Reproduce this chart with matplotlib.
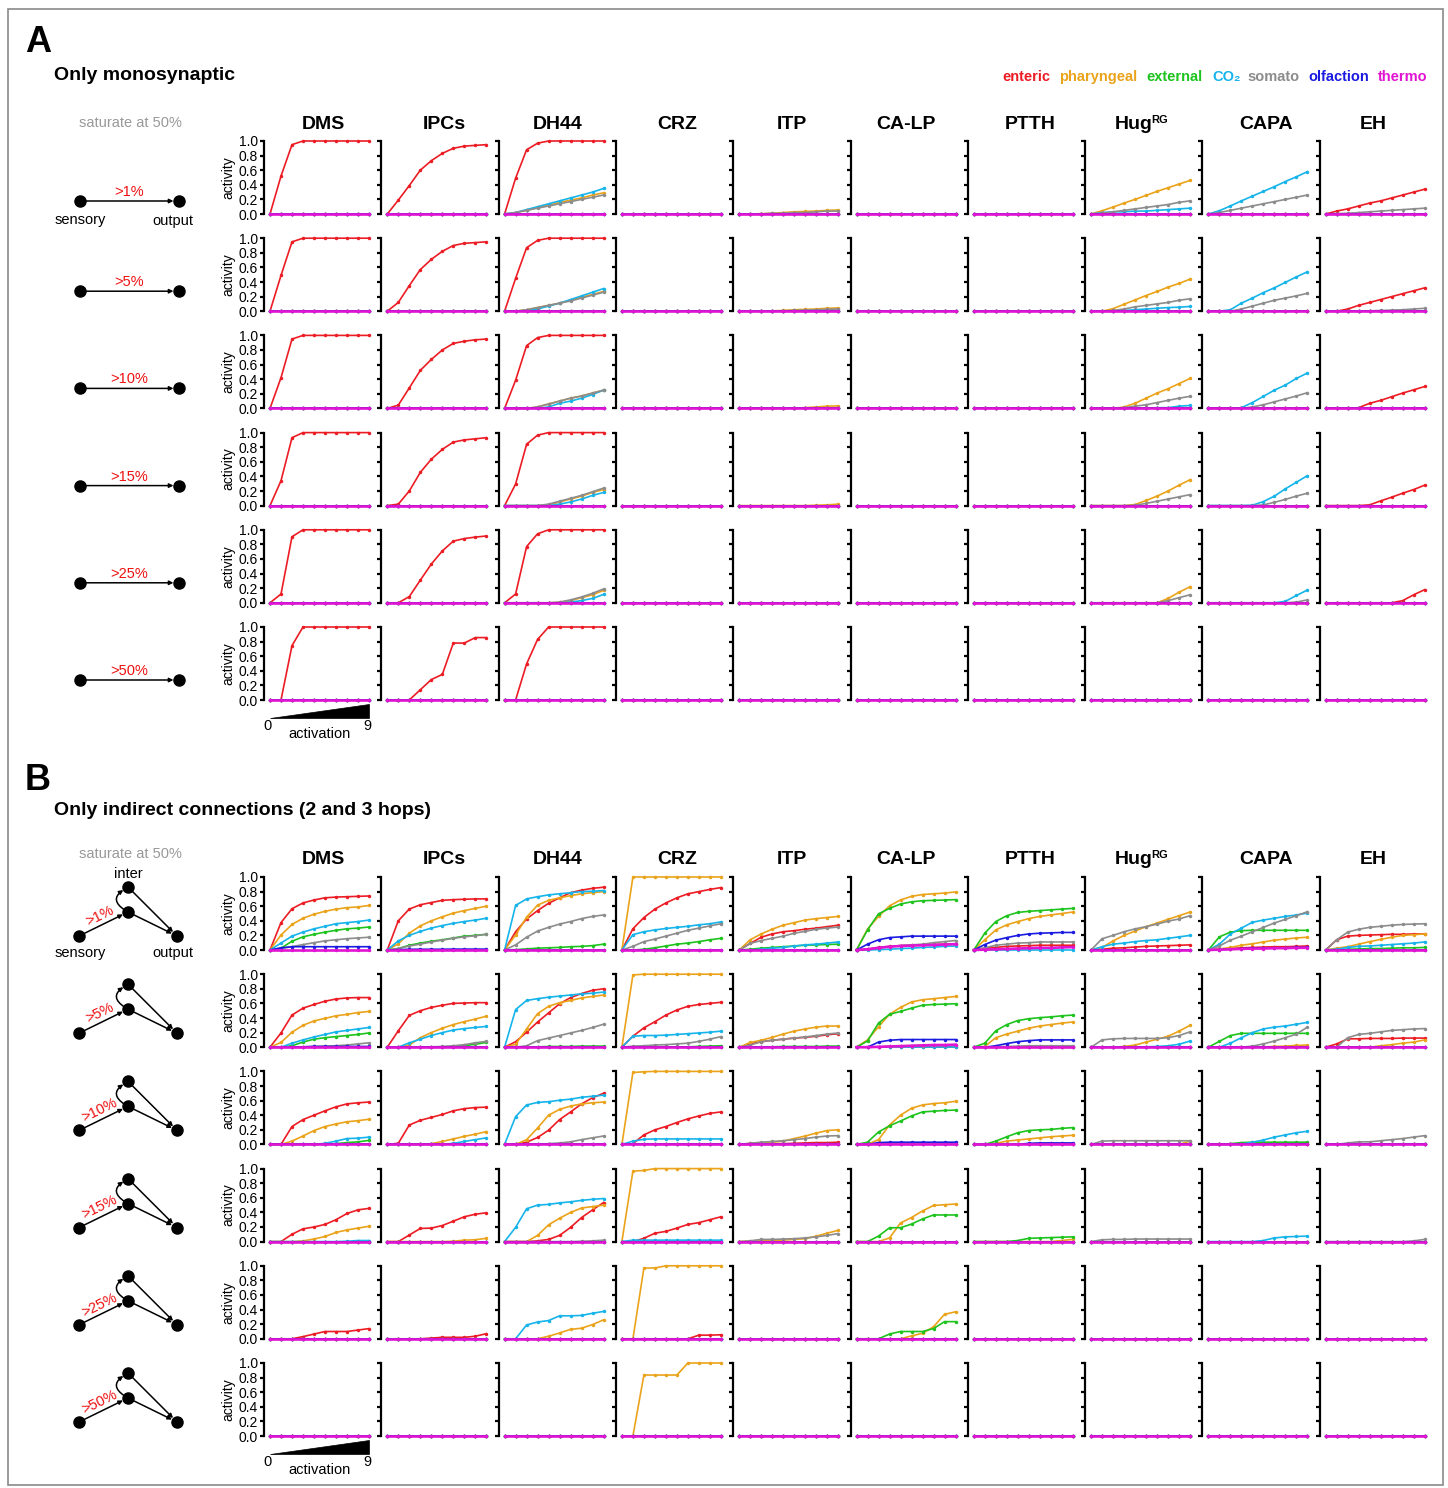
import matplotlib

matplotlib.use("Agg")
import matplotlib.pyplot as plt
from matplotlib.patches import Polygon, Rectangle

plt.rcParams["font.family"] = ["Liberation Sans", "DejaVu Sans"]

# ---------------------------------------------------------------- data
ACTIVATION = list(range(10))
ZERO = [0] * 10
Y_TICKS = [0.0, 0.2, 0.4, 0.6, 0.8, 1.0]

SERIES = ["enteric", "pharyngeal", "external", "CO2", "somato", "olfaction", "thermo"]
LEGEND_LABELS = ["enteric", "pharyngeal", "external", "CO\u2082", "somato", "olfaction", "thermo"]
COLORS = {
    "enteric": "#ec1c24",
    "pharyngeal": "#eaa31a",
    "external": "#1ec31e",
    "CO2": "#16b4ea",
    "somato": "#8c8c8c",
    "olfaction": "#1a1ae0",
    "thermo": "#e014d2",
}
OUTPUTS = ["DMS", "IPCs", "DH44", "CRZ", "ITP", "CA-LP", "PTTH", "Hug", "CAPA", "EH"]
THRESHOLDS = [">1%", ">5%", ">10%", ">15%", ">25%", ">50%"]

# A: only monosynaptic (series not listed stay at zero)
MONO_1 = {
    "DMS": {"enteric": [0, .52, .95, 1, 1, 1, 1, 1, 1, 1]},
    "IPCs": {"enteric": [0, .19, .39, .60, .73, .83, .90, .93, .94, .95]},
    "DH44": {"enteric": [0, .49, .88, .97, 1, 1, 1, 1, 1, 1],
             "pharyngeal": [0, .02, .05, .09, .12, .16, .19, .22, .26, .29],
             "CO2": [0, .02, .06, .10, .14, .18, .22, .26, .30, .35],
             "somato": [0, .02, .05, .08, .11, .14, .17, .20, .23, .26]},
    "ITP": {"pharyngeal": [0, 0, .005, .01, .02, .03, .035, .04, .05, .055],
            "somato": [0, 0, 0, .01, .01, .02, .02, .03, .04, .04]},
    "Hug": {"pharyngeal": [0, .045, .095, .15, .20, .255, .31, .36, .41, .46],
            "CO2": [0, .02, .03, .03, .04, .04, .05, .06, .07, .08],
            "somato": [0, .01, .03, .05, .07, .09, .11, .13, .16, .18]},
    "CAPA": {"CO2": [0, .045, .11, .18, .245, .31, .375, .445, .51, .58],
             "somato": [0, .02, .05, .08, .11, .14, .17, .20, .23, .26]},
    "EH": {"enteric": [0, .04, .07, .11, .15, .18, .22, .26, .30, .34],
           "somato": [0, .005, .01, .02, .03, .04, .05, .06, .07, .08]},
}
MONO_5 = {
    "DMS": {"enteric": [0, .49, .95, 1, 1, 1, 1, 1, 1, 1]},
    "IPCs": {"enteric": [0, .12, .35, .57, .71, .82, .90, .93, .94, .95]},
    "DH44": {"enteric": [0, .45, .87, .97, 1, 1, 1, 1, 1, 1],
             "pharyngeal": [0, 0, .02, .05, .08, .11, .15, .19, .23, .27],
             "CO2": [0, 0, .01, .03, .07, .11, .16, .21, .26, .31],
             "somato": [0, 0, .02, .05, .08, .11, .14, .18, .22, .26]},
    "ITP": {"pharyngeal": [0, 0, 0, .005, .01, .02, .025, .03, .04, .045],
            "somato": [0, 0, 0, 0, .005, .01, .015, .02, .025, .03]},
    "Hug": {"pharyngeal": [0, 0, .035, .095, .155, .215, .27, .33, .38, .44],
            "CO2": [0, 0, 0, .01, .02, .03, .04, .05, .055, .065],
            "somato": [0, 0, .01, .03, .06, .08, .10, .12, .15, .17]},
    "CAPA": {"CO2": [0, 0, .02, .11, .18, .255, .32, .395, .47, .54],
             "somato": [0, 0, 0, .03, .07, .11, .15, .18, .21, .245]},
    "EH": {"enteric": [0, 0, .03, .08, .12, .16, .20, .24, .28, .32],
           "somato": [0, 0, 0, 0, .005, .01, .015, .02, .03, .04]},
}
MONO_10 = {
    "DMS": {"enteric": [0, .42, .95, 1, 1, 1, 1, 1, 1, 1]},
    "IPCs": {"enteric": [0, .045, .28, .52, .67, .80, .89, .92, .94, .95]},
    "DH44": {"enteric": [0, .385, .86, .97, 1, 1, 1, 1, 1, 1],
             "pharyngeal": [0, 0, 0, .02, .06, .10, .14, .17, .21, .25],
             "CO2": [0, 0, 0, 0, .02, .07, .10, .14, .19, .25],
             "somato": [0, 0, 0, .02, .06, .10, .14, .17, .21, .25]},
    "ITP": {"pharyngeal": [0, 0, 0, 0, 0, .005, .01, .02, .03, .035]},
    "Hug": {"pharyngeal": [0, 0, 0, .02, .07, .14, .21, .27, .34, .41],
            "CO2": [0, 0, 0, 0, 0, 0, .01, .01, .03, .04],
            "somato": [0, 0, 0, .01, .03, .05, .08, .11, .14, .165]},
    "CAPA": {"CO2": [0, 0, 0, .01, .08, .165, .25, .32, .41, .485],
             "somato": [0, 0, 0, 0, .02, .05, .09, .13, .17, .215]},
    "EH": {"enteric": [0, 0, 0, .01, .07, .11, .16, .21, .255, .30]},
}
MONO_15 = {
    "DMS": {"enteric": [0, .34, .93, 1, 1, 1, 1, 1, 1, 1]},
    "IPCs": {"enteric": [0, .02, .20, .455, .635, .77, .87, .90, .915, .93]},
    "DH44": {"enteric": [0, .295, .84, .965, 1, 1, 1, 1, 1, 1],
             "pharyngeal": [0, 0, 0, 0, .01, .05, .09, .13, .18, .22],
             "CO2": [0, 0, 0, 0, 0, .02, .05, .09, .14, .18],
             "somato": [0, 0, 0, 0, .02, .06, .10, .14, .19, .24]},
    "ITP": {"pharyngeal": [0, 0, 0, 0, 0, 0, 0, .005, .01, .02]},
    "Hug": {"pharyngeal": [0, 0, 0, 0, .015, .07, .13, .20, .28, .355],
            "somato": [0, 0, 0, 0, .005, .03, .06, .09, .12, .15]},
    "CAPA": {"CO2": [0, 0, 0, 0, .005, .055, .13, .23, .32, .41],
             "somato": [0, 0, 0, 0, 0, .01, .045, .085, .13, .17]},
    "EH": {"enteric": [0, 0, 0, 0, .01, .065, .115, .17, .22, .28]},
}
MONO_25 = {
    "DMS": {"enteric": [0, .12, .905, 1, 1, 1, 1, 1, 1, 1]},
    "IPCs": {"enteric": [0, 0, .085, .31, .53, .71, .845, .88, .90, .915]},
    "DH44": {"enteric": [0, .12, .77, .945, 1, 1, 1, 1, 1, 1],
             "pharyngeal": [0, 0, 0, 0, 0, .005, .03, .07, .11, .17],
             "CO2": [0, 0, 0, 0, 0, 0, .01, .03, .06, .115],
             "somato": [0, 0, 0, 0, 0, .01, .04, .08, .13, .19]},
    "Hug": {"pharyngeal": [0, 0, 0, 0, 0, 0, 0, .06, .145, .22],
            "somato": [0, 0, 0, 0, 0, 0, 0, .03, .07, .11]},
    "CAPA": {"CO2": [0, 0, 0, 0, 0, 0, 0, .02, .10, .175],
             "somato": [0, 0, 0, 0, 0, 0, 0, 0, .01, .04]},
    "EH": {"enteric": [0, 0, 0, 0, 0, 0, 0, .03, .11, .18]},
}
MONO_50 = {
    "DMS": {"enteric": [0, 0, .745, 1, 1, 1, 1, 1, 1, 1]},
    "IPCs": {"enteric": [0, 0, 0, .14, .28, .35, .78, .78, .855, .855]},
    "DH44": {"enteric": [0, 0, .495, .83, 1, 1, 1, 1, 1, 1]},
}

# B: only indirect connections (2 and 3 hops)
INDIRECT_1 = {
    "DMS": {"enteric": [0, .375, .565, .645, .685, .715, .725, .73, .735, .74],
            "pharyngeal": [0, .205, .35, .435, .49, .53, .56, .58, .59, .61],
            "external": [0, .025, .12, .18, .215, .245, .27, .29, .30, .315],
            "CO2": [0, .095, .19, .245, .29, .325, .36, .375, .39, .41],
            "somato": [0, .02, .045, .075, .10, .125, .14, .155, .165, .175],
            "olfaction": [0, .03, .045, .045, .045, .045, .045, .045, .045, .045]},
    "IPCs": {"enteric": [0, .40, .56, .62, .65, .68, .69, .695, .70, .70],
             "pharyngeal": [0, .085, .23, .33, .40, .455, .505, .54, .57, .60],
             "external": [0, .02, .065, .095, .12, .14, .165, .19, .20, .215],
             "CO2": [0, .125, .20, .255, .30, .335, .365, .39, .41, .435],
             "somato": [0, .02, .055, .08, .11, .135, .16, .18, .195, .215],
             "olfaction": [0, .005, .01, .01, .01, .01, .012, .012, .012, .012]},
    "DH44": {"enteric": [0, .25, .425, .54, .64, .715, .785, .82, .845, .86],
             "pharyngeal": [0, .205, .45, .615, .68, .715, .745, .77, .785, .80],
             "external": [0, .005, .015, .025, .03, .035, .045, .05, .06, .08],
             "CO2": [0, .61, .70, .73, .755, .77, .785, .80, .805, .815],
             "somato": [0, .07, .175, .26, .31, .355, .39, .43, .46, .48]},
    "CRZ": {"enteric": [0, .29, .445, .56, .645, .715, .77, .80, .83, .855],
            "pharyngeal": [0, 1, 1, 1, 1, 1, 1, 1, 1, 1],
            "external": [0, 0, .01, .03, .055, .08, .095, .115, .14, .16],
            "CO2": [0, .21, .25, .275, .295, .31, .325, .345, .36, .385],
            "somato": [0, .05, .115, .15, .19, .23, .27, .30, .33, .36]},
    "ITP": {"enteric": [0, .09, .175, .22, .25, .265, .285, .30, .32, .34],
            "pharyngeal": [0, .14, .22, .285, .34, .375, .41, .43, .445, .46],
            "external": [0, .01, .025, .035, .045, .055, .065, .07, .075, .08],
            "CO2": [0, 0, .01, .025, .035, .055, .07, .08, .095, .11],
            "somato": [0, .09, .13, .16, .19, .23, .255, .285, .30, .315]},
    "CA-LP": {"enteric": [0, .01, .035, .05, .06, .065, .07, .075, .08, .08],
              "pharyngeal": [0, .285, .46, .605, .685, .735, .76, .77, .78, .795],
              "external": [0, .275, .495, .57, .63, .66, .675, .68, .685, .69],
              "CO2": [0, 0, .005, .01, .02, .025, .035, .04, .05, .055],
              "somato": [0, .01, .03, .045, .06, .07, .08, .10, .115, .13],
              "olfaction": [0, .08, .14, .17, .18, .19, .19, .19, .19, .19],
              "thermo": [0, .01, .03, .045, .055, .06, .065, .07, .075, .08]},
    "PTTH": {"enteric": [0, .025, .035, .05, .055, .06, .065, .065, .065, .065],
             "pharyngeal": [0, .14, .275, .345, .39, .43, .46, .48, .50, .52],
             "external": [0, .23, .39, .47, .515, .53, .54, .55, .56, .57],
             "somato": [0, .03, .065, .08, .095, .10, .11, .11, .11, .11],
             "olfaction": [0, .075, .135, .17, .20, .22, .23, .235, .24, .24],
             "thermo": [0, .005, .01, .015, .02, .025, .03, .03, .035, .04]},
    "Hug": {"enteric": [0, .01, .025, .03, .04, .05, .055, .06, .065, .07],
            "pharyngeal": [0, .035, .125, .20, .26, .32, .37, .42, .47, .52],
            "CO2": [0, .045, .08, .095, .115, .13, .14, .16, .18, .20],
            "somato": [0, .155, .20, .25, .29, .32, .355, .395, .425, .47]},
    "CAPA": {"enteric": [0, .01, .02, .03, .035, .04, .045, .045, .05, .055],
             "pharyngeal": [0, .015, .035, .065, .085, .11, .135, .15, .165, .175],
             "external": [0, .18, .245, .265, .27, .27, .27, .27, .27, .27],
             "CO2": [0, .08, .22, .30, .38, .41, .435, .46, .48, .505],
             "somato": [0, .055, .135, .19, .25, .31, .37, .42, .47, .525],
             "olfaction": [0, .005, .01, .02, .025, .03, .03, .03, .035, .035],
             "thermo": [0, .005, .01, .015, .02, .02, .025, .025, .03, .03]},
    "EH": {"enteric": [0, .14, .19, .20, .205, .21, .215, .215, .22, .22],
           "pharyngeal": [0, .025, .045, .08, .115, .145, .175, .20, .21, .22],
           "external": [0, .005, .01, .015, .02, .02, .025, .03, .03, .035],
           "CO2": [0, .01, .035, .05, .055, .065, .075, .085, .095, .11],
           "somato": [0, .14, .245, .285, .31, .325, .34, .35, .355, .36]},
}
INDIRECT_5 = {
    "DMS": {"enteric": [0, .195, .44, .535, .585, .63, .66, .675, .68, .68],
            "pharyngeal": [0, .065, .205, .30, .36, .395, .43, .45, .475, .49],
            "external": [0, 0, .02, .07, .11, .13, .145, .16, .175, .195],
            "CO2": [0, 0, .055, .10, .14, .175, .21, .23, .25, .27],
            "somato": [0, 0, 0, .005, .01, .015, .02, .03, .045, .06],
            "olfaction": [0, 0, .005, .005, .01, .01, .01, .01, .01, .01]},
    "IPCs": {"enteric": [0, .225, .435, .50, .545, .575, .60, .605, .61, .61],
             "pharyngeal": [0, 0, .03, .13, .20, .26, .31, .35, .385, .425],
             "external": [0, 0, 0, 0, 0, .005, .01, .02, .04, .065],
             "CO2": [0, 0, .06, .11, .16, .20, .235, .255, .27, .285],
             "somato": [0, 0, 0, 0, .005, .01, .02, .035, .06, .08]},
    "DH44": {"enteric": [0, .075, .205, .345, .47, .595, .68, .735, .78, .80],
             "pharyngeal": [0, .04, .25, .46, .56, .61, .64, .675, .695, .715],
             "external": [0, 0, .005, .005, .01, .01, .01, .015, .015, .015],
             "CO2": [0, .515, .64, .665, .685, .70, .715, .73, .74, .755],
             "somato": [0, 0, .02, .09, .125, .16, .195, .23, .27, .315]},
    "CRZ": {"enteric": [0, .15, .265, .35, .44, .51, .56, .585, .60, .615],
            "pharyngeal": [0, .99, 1, 1, 1, 1, 1, 1, 1, 1],
            "external": [0, 0, 0, 0, 0, 0, .005, .01, .015, .02],
            "CO2": [0, .15, .16, .16, .165, .175, .185, .195, .205, .22],
            "somato": [0, .015, .02, .03, .035, .045, .055, .08, .11, .145]},
    "ITP": {"enteric": [0, .045, .075, .095, .11, .125, .135, .15, .17, .185],
            "pharyngeal": [0, .065, .095, .135, .18, .22, .25, .275, .29, .29],
            "external": [0, 0, .005, .005, .01, .01, .01, .01, .015, .015],
            "somato": [0, .03, .075, .095, .11, .125, .14, .16, .18, .195]},
    "CA-LP": {"pharyngeal": [0, .10, .28, .45, .545, .62, .65, .665, .68, .695],
              "external": [0, .085, .33, .45, .49, .535, .575, .585, .59, .595],
              "somato": [0, 0, .005, .01, .015, .02, .02, .025, .025, .03],
              "olfaction": [0, 0, .07, .095, .105, .105, .105, .105, .105, .105],
              "thermo": [0, 0, .005, .01, .015, .02, .025, .03, .03, .035]},
    "PTTH": {"pharyngeal": [0, .01, .13, .18, .22, .26, .29, .31, .33, .345],
             "external": [0, .055, .225, .31, .365, .39, .405, .415, .43, .44],
             "somato": [0, 0, .005, .01, .015, .02, .02, .02, .02, .02],
             "olfaction": [0, 0, .02, .05, .075, .09, .10, .10, .10, .10]},
    "Hug": {"pharyngeal": [0, 0, 0, .01, .03, .07, .11, .15, .22, .30],
            "CO2": [0, 0, 0, 0, 0, .005, .01, .02, .04, .085],
            "somato": [0, .10, .115, .12, .12, .12, .12, .13, .16, .21]},
    "CAPA": {"pharyngeal": [0, 0, 0, 0, 0, .005, .01, .015, .025, .03],
             "external": [0, .08, .16, .19, .19, .19, .19, .19, .19, .19],
             "CO2": [0, 0, .055, .13, .20, .25, .275, .29, .315, .34],
             "somato": [0, 0, 0, 0, .015, .045, .085, .13, .18, .275]},
    "EH": {"enteric": [0, .045, .115, .115, .12, .12, .12, .125, .125, .125],
           "pharyngeal": [0, 0, 0, 0, 0, .02, .035, .055, .07, .10],
           "somato": [0, 0, .13, .175, .19, .21, .23, .24, .25, .255]},
}
INDIRECT_10 = {
    "DMS": {"enteric": [0, 0, .245, .34, .40, .46, .515, .555, .57, .58],
            "pharyngeal": [0, 0, .045, .115, .19, .245, .28, .31, .325, .345],
            "external": [0, 0, 0, 0, 0, 0, .01, .025, .035, .055],
            "CO2": [0, 0, 0, 0, 0, .015, .045, .08, .085, .10]},
    "IPCs": {"enteric": [0, .015, .265, .33, .37, .41, .46, .49, .505, .51],
             "pharyngeal": [0, 0, 0, 0, .01, .04, .075, .11, .14, .175],
             "CO2": [0, 0, 0, 0, 0, 0, .015, .04, .065, .09]},
    "DH44": {"enteric": [0, 0, .03, .095, .195, .34, .445, .555, .64, .70],
             "pharyngeal": [0, 0, .065, .225, .40, .48, .525, .555, .57, .58],
             "CO2": [0, .38, .54, .575, .585, .605, .62, .645, .66, .675],
             "somato": [0, 0, 0, 0, .01, .02, .035, .065, .09, .115]},
    "CRZ": {"enteric": [0, .01, .13, .20, .245, .30, .35, .39, .425, .445],
            "pharyngeal": [0, .985, .995, 1, 1, 1, 1, 1, 1, 1],
            "CO2": [0, .045, .07, .075, .075, .075, .075, .075, .075, .075]},
    "ITP": {"enteric": [0, 0, .005, .01, .01, .015, .02, .025, .025, .03],
            "pharyngeal": [0, .015, .025, .03, .045, .08, .115, .155, .19, .20],
            "somato": [0, .015, .03, .04, .05, .065, .08, .10, .115, .12]},
    "CA-LP": {"pharyngeal": [0, 0, .065, .265, .40, .495, .54, .56, .57, .59],
              "external": [0, .03, .17, .255, .32, .39, .445, .455, .465, .47],
              "olfaction": [0, 0, .025, .03, .03, .03, .03, .03, .03, .03]},
    "PTTH": {"pharyngeal": [0, 0, .015, .045, .06, .075, .09, .105, .115, .125],
             "external": [0, 0, .045, .105, .16, .19, .20, .205, .22, .23],
             "olfaction": [0, 0, 0, 0, 0, .015, .02, .02, .02, .02]},
    "Hug": {"pharyngeal": [0, 0, 0, 0, 0, 0, 0, 0, 0, .045],
            "somato": [0, .045, .05, .05, .05, .05, .05, .05, .05, .05]},
    "CAPA": {"external": [0, 0, .01, .025, .03, .03, .03, .03, .03, .03],
             "CO2": [0, 0, 0, .005, .03, .06, .10, .13, .16, .18]},
    "EH": {"somato": [0, 0, .02, .035, .035, .05, .065, .08, .10, .12]},
}
INDIRECT_15 = {
    "DMS": {"enteric": [0, 0, .10, .175, .20, .235, .30, .385, .435, .455],
            "pharyngeal": [0, 0, 0, .01, .035, .07, .125, .16, .185, .21],
            "CO2": [0, 0, 0, 0, 0, 0, 0, .005, .015, .015]},
    "IPCs": {"enteric": [0, 0, .09, .18, .185, .22, .28, .34, .375, .395],
             "pharyngeal": [0, 0, 0, 0, 0, 0, .005, .02, .025, .045]},
    "DH44": {"enteric": [0, 0, 0, .01, .03, .085, .195, .33, .435, .535],
             "pharyngeal": [0, 0, 0, .085, .23, .32, .40, .46, .48, .50],
             "CO2": [0, .195, .45, .50, .51, .53, .545, .565, .58, .59],
             "somato": [0, 0, 0, 0, 0, 0, 0, .005, .01, .02]},
    "CRZ": {"enteric": [0, 0, .045, .115, .14, .185, .235, .26, .30, .34],
            "pharyngeal": [0, .965, .975, 1, 1, 1, 1, 1, 1, 1],
            "CO2": [0, .02, .02, .02, .02, .02, .02, .02, .02, .02]},
    "ITP": {"pharyngeal": [0, .01, .015, .015, .02, .03, .04, .075, .115, .155],
            "somato": [0, .01, .03, .03, .035, .04, .05, .065, .085, .11]},
    "CA-LP": {"pharyngeal": [0, 0, 0, .05, .255, .33, .42, .495, .505, .515],
              "external": [0, 0, .075, .19, .19, .24, .31, .365, .365, .365]},
    "PTTH": {"pharyngeal": [0, 0, 0, 0, 0, 0, 0, 0, .015, .03],
             "external": [0, 0, 0, 0, .015, .045, .05, .055, .06, .065]},
    "Hug": {"somato": [0, .025, .03, .03, .035, .035, .035, .035, .035, .035]},
    "CAPA": {"CO2": [0, 0, 0, 0, 0, .015, .05, .065, .07, .075]},
    "EH": {"somato": [0, 0, 0, 0, 0, 0, 0, 0, .01, .03]},
}
INDIRECT_25 = {
    "DMS": {"enteric": [0, 0, 0, .03, .065, .10, .10, .10, .12, .14]},
    "IPCs": {"enteric": [0, 0, 0, 0, .01, .02, .02, .02, .035, .07]},
    "DH44": {"pharyngeal": [0, 0, 0, 0, .035, .08, .13, .145, .195, .26],
             "CO2": [0, 0, .19, .23, .25, .315, .315, .32, .35, .375]},
    "CRZ": {"enteric": [0, 0, 0, 0, 0, 0, 0, .05, .05, .055],
            "pharyngeal": [0, 0, .97, .97, 1, 1, 1, 1, 1, 1]},
    "CA-LP": {"pharyngeal": [0, 0, 0, 0, 0, .04, .075, .165, .335, .37],
              "external": [0, 0, 0, .065, .10, .10, .10, .14, .235, .235]},
}
INDIRECT_50 = {
    "CRZ": {"pharyngeal": [0, 0, .835, .835, .835, .835, 1, 1, 1, 1]},
}

MONO_ROWS = [MONO_1, MONO_5, MONO_10, MONO_15, MONO_25, MONO_50]
INDIRECT_ROWS = [INDIRECT_1, INDIRECT_5, INDIRECT_10, INDIRECT_15, INDIRECT_25, INDIRECT_50]

# ---------------------------------------------------------------- layout (pixels)
W, H = 1448, 1488
COL_X0, COL_STEP = 264, 117.3
AX_W, AX_H = 108, 73
ROW_STEP = 97.2
PANEL_A_TOP = 141
PANEL_B_TOP = 877
TITLE_X = [323, 444, 558, 677, 792, 906, 1030, 1145, 1266, 1373]
RED = "#ee1111"


def style_axes(ax, first):
    ax.set_xlim(-6 / 11, (AX_W - 6) / 11)
    ax.set_ylim(0, 1)
    for side in ("top", "right", "bottom"):
        ax.spines[side].set_visible(False)
    ax.spines["left"].set_linewidth(1.6)
    ax.set_xticks([])
    ax.set_yticks(Y_TICKS)
    ax.tick_params(axis="y", direction="out", length=3, width=1.6, pad=1.5, labelsize=10)
    if first:
        ax.set_yticklabels([f"{t:.1f}" for t in Y_TICKS])
        ax.set_ylabel("activity", fontsize=10, labelpad=2)
    else:
        ax.set_yticklabels([])
    ax.patch.set_alpha(0)


def plot_panel(fig, rows, top0):
    for r, row in enumerate(rows):
        top = top0 + r * ROW_STEP
        for c, name in enumerate(OUTPUTS):
            left = COL_X0 + c * COL_STEP
            ax = fig.add_axes([left / W, 1 - (top + AX_H) / H, AX_W / W, AX_H / H])
            curves = row.get(name, {})
            for s in SERIES:
                thermo = s == "thermo"
                ax.plot(ACTIVATION, curves.get(s, ZERO), color=COLORS[s],
                        lw=1.9 if thermo else 1.2, marker="o", ms=2.5, mew=0,
                        clip_on=False, zorder=3 if thermo else 2)
            style_axes(ax, c == 0)


def column_titles(ov, y):
    for x, name in zip(TITLE_X, OUTPUTS):
        if name == "Hug":
            ov.text(x + 8, y, "Hug", ha="right", va="baseline", fontsize=14, fontweight="bold")
            ov.text(x + 6, y - 6, "RG", ha="left", va="baseline", fontsize=8, fontweight="bold")
        else:
            ov.text(x, y, name, ha="center", va="baseline", fontsize=14, fontweight="bold")


def arrow(ov, start, end, rad=0.0):
    ov.annotate("", xy=end, xytext=start,
                arrowprops=dict(arrowstyle="-|>", color="black", lw=1.1, shrinkA=3, shrinkB=4,
                                mutation_scale=6, connectionstyle=f"arc3,rad={rad}"))


def activation_wedge(ov, y0):
    x0 = COL_X0 + 6
    x9 = COL_X0 + 6 + 9 * 11
    ov.add_patch(Polygon([(x0, y0 + 18), (x9, y0 + 18), (x9, y0 + 4)], closed=True,
                         fc="black", ec="black", lw=0.5))
    ov.text(x0 - 2, y0 + 30, "0", ha="center", va="baseline", fontsize=10.5)
    ov.text(x9 - 2, y0 + 30, "9", ha="center", va="baseline", fontsize=10.5)
    ov.text((x0 + x9) / 2, y0 + 38, "activation", ha="center", va="baseline", fontsize=10.5)


fig = plt.figure(figsize=(W / 100, H / 100), dpi=100)
ov = fig.add_axes([0, 0, 1, 1])
ov.set_xlim(0, W)
ov.set_ylim(H, 0)
ov.axis("off")

ov.add_patch(Rectangle((7.5, 9), 1435, 1476, fill=False, ec="#8a8a8a", lw=1.2))

# ---------------- panel A
ov.text(25, 52, "A", fontsize=26, fontweight="bold", va="baseline")
ov.text(54, 80, "Only monosynaptic", fontsize=14, fontweight="bold", va="baseline")
legend_x = [1002, 1059, 1146, 1212, 1247, 1308, 1378]
for lx, label, s in zip(legend_x, LEGEND_LABELS, SERIES):
    ov.text(lx, 81, label, color=COLORS[s], fontsize=10.5, fontweight="bold", va="baseline")
ov.text(130, 127, "saturate at 50%", color="#999999", fontsize=10.5, ha="center", va="baseline")
column_titles(ov, 129)
plot_panel(fig, MONO_ROWS, PANEL_A_TOP)

for r, label in enumerate(THRESHOLDS):
    y0 = PANEL_A_TOP + r * ROW_STEP + AX_H
    y = y0 - (13 if r == 0 else 20)
    arrow(ov, (80, y), (179, y))
    ov.plot([80, 179], [y, y], "o", color="black", ms=8)
    ov.text(129, y - 5, label, color=RED, fontsize=10.5, ha="center", va="baseline")
    if r == 0:
        ov.text(80, y + 23, "sensory", fontsize=10.5, ha="center", va="baseline")
        ov.text(173, y + 24, "output", fontsize=10.5, ha="center", va="baseline")
activation_wedge(ov, PANEL_A_TOP + 5 * ROW_STEP + AX_H)

# ---------------- panel B
ov.text(25, 790, "B", fontsize=26, fontweight="bold", va="baseline")
ov.text(54, 815, "Only indirect connections (2 and 3 hops)", fontsize=14, fontweight="bold",
        va="baseline")
ov.text(130, 858, "saturate at 50%", color="#999999", fontsize=10.5, ha="center", va="baseline")
column_titles(ov, 864)
plot_panel(fig, INDIRECT_ROWS, PANEL_B_TOP)

for r, label in enumerate(THRESHOLDS):
    y0 = PANEL_B_TOP + r * ROW_STEP + AX_H
    sens, out = (79, y0 - 14), (177, y0 - 14)
    ib, it = (128, y0 - 38), (128, y0 - 63)
    arrow(ov, sens, ib)
    arrow(ov, ib, out)
    arrow(ov, it, out)
    arrow(ov, ib, it, rad=-0.9)
    ov.plot([sens[0], ib[0], it[0], out[0]], [sens[1], ib[1], it[1], out[1]], "o",
            color="black", ms=8)
    ov.text((sens[0] + ib[0]) / 2 - 4, (sens[1] + ib[1]) / 2 - 8, label, color=RED,
            fontsize=10.5, ha="center", va="center", rotation=26, rotation_mode="anchor")
    if r == 0:
        ov.text(128, it[1] - 9, "inter", fontsize=10.5, ha="center", va="baseline")
        ov.text(80, sens[1] + 21, "sensory", fontsize=10.5, ha="center", va="baseline")
        ov.text(173, sens[1] + 21, "output", fontsize=10.5, ha="center", va="baseline")
activation_wedge(ov, PANEL_B_TOP + 5 * ROW_STEP + AX_H)

fig.savefig("out.png", dpi=100)
